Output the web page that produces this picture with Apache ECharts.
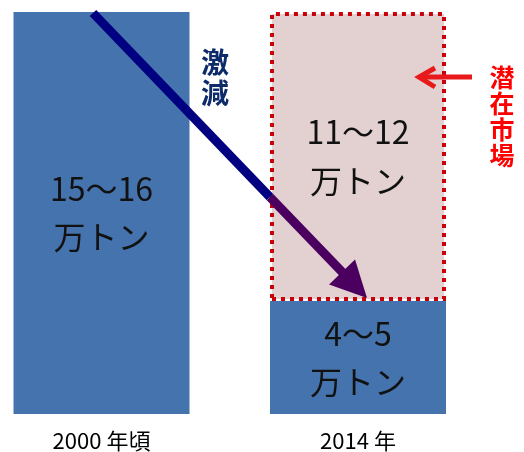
<!DOCTYPE html>
<html>
<head>
<meta charset="utf-8">
<script src="https://cdn.jsdelivr.net/npm/echarts@6/dist/echarts.min.js"></script>
<style>html,body{margin:0;padding:0;background:#fff;}#c{width:524px;height:452px;}</style>
</head>
<body>
<div id="c"></div>
<script>
// Data
const categories = ['2000 年頃', '2014 年'];
const actualValues = [16, 4.5];        // 万トン (bar height, upper bound reading)
const potentialValues = ['-', 11.5];   // 潜在市場 stacked on 2014
const actualLabels = ['15～16', '4～5'];
const potentialLabels = ['', '11～12'];
const unitLabel = '万トン';
const declineText = '激減';
const potentialText = '潜在市場';

const chart = echarts.init(document.getElementById('c'), null, {renderer: 'canvas'});
const FONT = '"Noto Sans CJK JP", "Noto Sans", sans-serif';

function vert(s) { return s.split('').join('\n'); }

// arrow geometry (annotation)
const start = [93, 13], tip = [367, 298];
const dx = tip[0] - start[0], dy = tip[1] - start[1];
const L = Math.hypot(dx, dy), ux = dx / L, uy = dy / L, nx = -uy, ny = ux;
const headLen = 36, headHalf = 18;
const base = [tip[0] - headLen * ux, tip[1] - headLen * uy];
const crossT = (270 - start[0]) / dx;
const cross = [270, start[1] + crossT * dy];

chart.setOption({
  animation: false,
  grid: {left: 101.5, right: 166, top: 12, bottom: 38},
  xAxis: {
    type: 'category', data: categories, boundaryGap: false,
    axisLine: {show: false}, axisTick: {show: false},
    axisLabel: {color: '#000', fontSize: 22, fontFamily: FONT, margin: 16}
  },
  yAxis: {type: 'value', min: 0, max: 16, show: false},
  series: [
    {
      type: 'bar', stack: 'a', barWidth: 176, clip: false,
      data: actualValues,
      itemStyle: {color: '#4573ad'},
      label: {
        show: true, position: 'inside', color: '#111', fontFamily: FONT,
        fontSize: 32, lineHeight: 48,
        formatter: p => actualLabels[p.dataIndex] + '\n' + unitLabel
      }
    },
    {
      type: 'bar', stack: 'a', barWidth: 176, clip: false,
      data: potentialValues,
      itemStyle: {color: '#e3d1d1', borderColor: '#c8000a', borderWidth: 4, borderType: [4, 5]},
      label: {
        show: true, position: 'inside', color: '#111', fontFamily: FONT,
        fontSize: 32, lineHeight: 49,
        formatter: p => potentialLabels[p.dataIndex] + '\n' + unitLabel
      }
    }
  ],
  graphic: [
    {type: 'line', z: 100, shape: {x1: start[0], y1: start[1], x2: cross[0], y2: cross[1]},
     style: {stroke: '#000080', lineWidth: 9, lineCap: 'butt'}},
    {type: 'line', z: 100, shape: {x1: cross[0], y1: cross[1], x2: base[0] + 2 * ux, y2: base[1] + 2 * uy},
     style: {stroke: '#4b0060', lineWidth: 9, lineCap: 'butt'}},
    {type: 'polygon', z: 100, shape: {points: [
      tip,
      [base[0] + headHalf * nx, base[1] + headHalf * ny],
      [base[0] - headHalf * nx, base[1] - headHalf * ny]
    ]}, style: {fill: '#4b0060'}},
    {type: 'text', z: 100, x: 215, y: 78, style: {
      text: vert(declineText), fill: '#0d2b6b', font: 'bold 28px ' + FONT,
      lineHeight: 31, align: 'center', verticalAlign: 'middle'}},
    {type: 'text', z: 100, x: 502, y: 116, style: {
      text: vert(potentialText), fill: '#ff0000', font: 'bold 25px ' + FONT,
      lineHeight: 26, align: 'center', verticalAlign: 'middle'}},
    {type: 'line', z: 100, shape: {x1: 472, y1: 77, x2: 420, y2: 77},
     style: {stroke: '#e8191a', lineWidth: 5}},
    {type: 'polyline', z: 100, shape: {points: [[435, 68], [419, 77], [435, 87]]},
     style: {stroke: '#e8191a', lineWidth: 5, fill: null, lineJoin: 'miter'}}
  ]
});
</script>
</body>
</html>
